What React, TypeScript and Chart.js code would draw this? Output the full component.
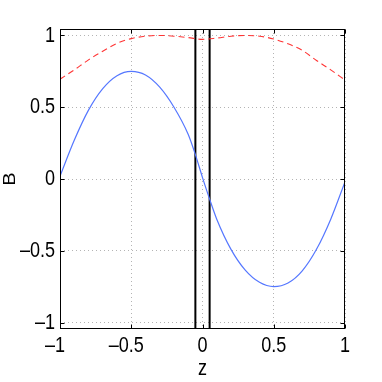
import React, { useEffect, useRef } from "react";
import { Chart, registerables } from "chart.js";

Chart.register(...registerables);

// ---- data ----
const zBlue = [-1, -0.9, -0.8, -0.7, -0.6, -0.5, -0.4, -0.3, -0.2, -0.1, -0.05, 0, 0.05, 0.1, 0.2, 0.3, 0.4, 0.5, 0.6, 0.7, 0.8, 0.9, 1];
const bBlue = [0.02, 0.27, 0.48, 0.63, 0.72, 0.75, 0.725, 0.64, 0.5, 0.31, 0.17, 0.01, -0.14, -0.28, -0.49, -0.635, -0.72, -0.75, -0.725, -0.64, -0.49, -0.28, -0.02];

const zRed = [-1, -0.9, -0.8, -0.7, -0.6, -0.5, -0.4, -0.3, -0.2, -0.1, 0, 0.1, 0.2, 0.3, 0.4, 0.5, 0.6, 0.7, 0.8, 0.9, 1];
const bRed = [0.695, 0.76, 0.83, 0.89, 0.945, 0.978, 0.995, 1.0, 0.995, 0.985, 0.973, 0.982, 0.995, 1.0, 0.995, 0.975, 0.942, 0.896, 0.826, 0.76, 0.69];

const wallZ = [-0.05, 0.05];

const xRange = [-1, 1];
const yRange = [-1.045, 1.045];
const xTicks = [-1, -0.5, 0, 0.5, 1];
const yTicks = [-1, -0.5, 0, 0.5, 1];
const xTitle = "z";
const yTitle = "B";

const FONT = "'Liberation Sans', Arial, sans-serif";
const SQUEEZE = 0.82; // the reference text is horizontally condensed

function fmt(v: number): string {
  return v < 0 ? "\u2013" + String(-v) : String(v);
}

// Condense the text that Chart.js draws for the axes (ticks and titles).
const condensePlugin = {
  id: "condenseText",
  beforeDraw(chart: any) {
    const ctx = chart.ctx;
    if (ctx.__origFill) return;
    const orig = ctx.fillText;
    ctx.__origFill = orig;
    ctx.fillText = function (text: string, x: number, y: number, maxWidth?: number) {
      const m = ctx.getTransform();
      const rotated = Math.abs(m.b) > 1e-6 || Math.abs(m.c) > 1e-6;
      ctx.save();
      ctx.translate(x, y);
      if (rotated) ctx.scale(1, SQUEEZE);
      else ctx.scale(SQUEEZE, 1);
      if (maxWidth === undefined) orig.call(ctx, text, 0, 0);
      else orig.call(ctx, text, 0, 0, maxWidth / SQUEEZE);
      ctx.restore();
    };
  },
  beforeDatasetsDraw(chart: any) {
    const ctx = chart.ctx;
    if (ctx.__origFill) {
      ctx.fillText = ctx.__origFill;
      delete ctx.__origFill;
    }
  },
  afterDraw(chart: any) {
    const ctx = chart.ctx;
    if (ctx.__origFill) {
      ctx.fillText = ctx.__origFill;
      delete ctx.__origFill;
    }
  },
};

const framePlugin = {
  id: "matlabFrame",
  afterDraw(chart: any) {
    const { ctx, chartArea } = chart;
    const xs = chart.scales.x;
    const ys = chart.scales.y;
    const l = Math.round(chartArea.left) + 0.5;
    const r = Math.round(chartArea.right) - 0.5;
    const t = Math.round(chartArea.top) + 0.5;
    const b = Math.round(chartArea.bottom) - 0.5;
    ctx.save();
    ctx.strokeStyle = "#000";
    ctx.lineWidth = 1;
    ctx.setLineDash([]);
    ctx.strokeRect(l, t, r - l, b - t);
    const tl = 4;
    ctx.beginPath();
    for (const v of xTicks) {
      const p = Math.round(xs.getPixelForValue(v)) + 0.5;
      ctx.moveTo(p, b);
      ctx.lineTo(p, b - tl);
      ctx.moveTo(p, t);
      ctx.lineTo(p, t + tl);
    }
    for (const v of yTicks) {
      const p = Math.round(ys.getPixelForValue(v)) + 0.5;
      ctx.moveTo(l, p);
      ctx.lineTo(l + tl, p);
      ctx.moveTo(r, p);
      ctx.lineTo(r - tl, p);
    }
    ctx.stroke();
    ctx.restore();
  },
};

export default function App() {
  const ref = useRef<HTMLCanvasElement | null>(null);

  useEffect(() => {
    const canvas = ref.current;
    if (!canvas) return;
    document.body.style.margin = "0";

    const blue = zBlue.map((z, i) => ({ x: z, y: bBlue[i] }));
    const red = zRed.map((z, i) => ({ x: z, y: bRed[i] }));
    const walls = wallZ.map((z) => ({
      type: "scatter" as const,
      data: [
        { x: z, y: yRange[0] },
        { x: z, y: yRange[1] },
      ],
      showLine: true,
      borderColor: "#000000",
      borderWidth: 2,
      pointRadius: 0,
      tension: 0,
    }));

    const chart = new Chart(canvas, {
      type: "scatter",
      data: {
        datasets: [
          {
            data: red,
            showLine: true,
            borderColor: "#ff3535",
            borderWidth: 1.1,
            borderDash: [6, 4],
            pointRadius: 0,
            cubicInterpolationMode: "monotone",
          },
          {
            data: blue,
            showLine: true,
            borderColor: "#5577ff",
            borderWidth: 1.2,
            pointRadius: 0,
            cubicInterpolationMode: "monotone",
          },
          ...walls,
        ] as any,
      },
      options: {
        animation: false,
        responsive: false,
        maintainAspectRatio: false,
        events: [],
        layout: { padding: { left: 0, top: 29, right: 37, bottom: 0 } },
        plugins: {
          legend: { display: false },
          tooltip: { enabled: false },
          title: { display: false },
        },
        scales: {
          x: {
            type: "linear",
            min: xRange[0],
            max: xRange[1],
            afterBuildTicks: (s: any) => {
              s.ticks = xTicks.map((v) => ({ value: v }));
            },
            afterFit: (s: any) => {
              s.height = 53;
            },
            ticks: {
              autoSkip: false,
              maxRotation: 0,
              minRotation: 0,
              padding: 4,
              color: "#000",
              font: { family: FONT, size: 22 },
              callback: (v: any) => {
                const n = Number(v);
                return n < 0 ? fmt(n) + "\u2007" : fmt(n);
              },
            },
            grid: { color: "#b4b4b4", lineWidth: 1, drawTicks: false },
            border: { display: false, dash: [1, 3] },
            title: {
              display: true,
              text: xTitle,
              color: "#000",
              font: { family: FONT, size: 22 },
              padding: { top: 0, bottom: 0 },
            },
          },
          y: {
            type: "linear",
            min: yRange[0],
            max: yRange[1],
            afterBuildTicks: (s: any) => {
              s.ticks = yTicks.map((v) => ({ value: v }));
            },
            afterFit: (s: any) => {
              s.width = 60;
            },
            ticks: {
              autoSkip: false,
              padding: 5,
              color: "#000",
              font: { family: FONT, size: 22 },
              callback: (v: any) => fmt(Number(v)),
            },
            grid: { color: "#b4b4b4", lineWidth: 1, drawTicks: false },
            border: { display: false, dash: [1, 3] },
            title: {
              display: true,
              text: yTitle,
              color: "#000",
              font: { family: FONT, size: 20, lineHeight: 1.0 },
              padding: { top: 0, bottom: 0 },
            },
          },
        },
      },
      plugins: [condensePlugin, framePlugin],
    });

    return () => {
      chart.destroy();
    };
  }, []);

  return (
    <div style={{ position: "absolute", left: 0, top: 0, width: 382, height: 382, background: "#fff" }}>
      <canvas ref={ref} width={382} height={382} style={{ display: "block", width: 382, height: 382 }} />
    </div>
  );
}
